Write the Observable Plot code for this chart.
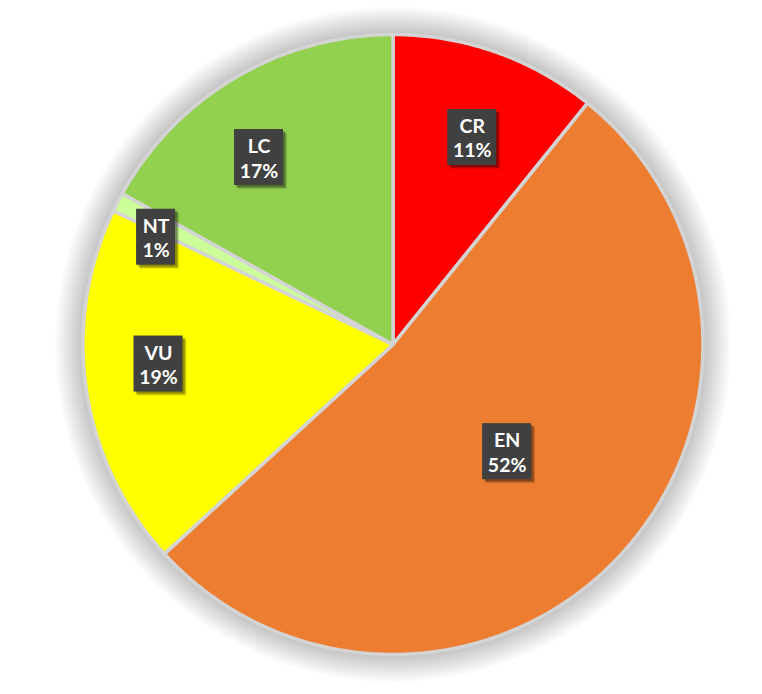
<!DOCTYPE html>
<html>
<head>
<meta charset="utf-8">
<script src="https://cdn.jsdelivr.net/npm/d3@7"></script>
<script src="https://cdn.jsdelivr.net/npm/@observablehq/plot@0.6"></script>
</head>
<body style="margin:0">
<div id="dbg" style="position:fixed;left:0;top:0;font:14px sans-serif;color:black;z-index:9"></div>
<script>
// ---- data ----
const categories = ["CR", "EN", "VU", "NT", "LC"];
const values = [10.8, 52.4, 18.9, 1.0, 16.9];
// ---- styling / layout ----
const sliceColors = ["#ff0000", "#ed7d31", "#ffff00", "#ccff99", "#92d050"];
const labelRadius = [0.715, 0.505, 0.759, 0.839, 0.742]; // fraction of pie radius
const labelTurn = [1.5, 0, 3.7, -3.0, -5.2];               // degrees nudge from slice middle

try {
  const cx = 392.5, cy = 344, R = 310;
  const total = d3.sum(values);
  const rad = Math.PI / 180;

  const slicePts = [];
  const labelData = [];
  let acc = 0;
  categories.forEach((c, i) => {
    const a0 = acc / total * 360;
    acc += values[i];
    const a1 = acc / total * 360;
    slicePts.push({cat: c, x: 0, y: 0});
    const n = Math.max(2, Math.ceil((a1 - a0) / 0.5));
    for (let k = 0; k <= n; k++) {
      const a = (a0 + (a1 - a0) * k / n) * rad;
      slicePts.push({cat: c, x: Math.sin(a), y: Math.cos(a)});
    }
    slicePts.push({cat: c, x: 0, y: 0});
    const am = ((a0 + a1) / 2 + labelTurn[i]) * rad;
    const pct = Math.round(values[i] / total * 100) + "%";
    const lx = labelRadius[i] * Math.sin(am), ly = labelRadius[i] * Math.cos(am);
    const bw = (10 * Math.max(c.length, pct.length) + 19) / R / 2; // half box width, in radius units
    const bh = 28 / R;                                                // half box height
    labelData.push({cat: c, x: lx, y: ly, text: c + "\n" + pct,
      x1: lx - bw, x2: lx + bw, y1: ly - bh, y2: ly + bh});
  });

  // soft halo behind the pie: stacked translucent discs
  const haloPts = [];
  d3.range(1, 21).forEach(k => {
    const rr = 1 + k * 0.0045;
    d3.range(0, 361, 2).forEach(a => haloPts.push({ring: k, x: rr * Math.sin(a * rad), y: rr * Math.cos(a * rad)}));
  });

  const svg = Plot.plot({
    width: 762, height: 694,
    marginTop: 0, marginRight: 0, marginBottom: 0, marginLeft: 0,
    x: {domain: [-1, 1], range: [cx - R, cx + R], axis: null},
    y: {domain: [-1, 1], range: [cy + R, cy - R], axis: null},
    color: {domain: categories, range: sliceColors},
    marks: [
      Plot.line(haloPts, {x: "x", y: "y", z: "ring", fill: "black", fillOpacity: 0.01, stroke: null}),
      Plot.line(slicePts, {x: "x", y: "y", z: "cat", fill: "cat", stroke: "#d4d4d4", strokeWidth: 3.5}),
      Plot.rect(labelData, {x1: "x1", x2: "x2", y1: "y1", y2: "y2", fill: "black", fillOpacity: 0.12, dx: 4, dy: 4}),
      Plot.rect(labelData, {x1: "x1", x2: "x2", y1: "y1", y2: "y2", fill: "black", fillOpacity: 0.2, dx: 3, dy: 3}),
      Plot.rect(labelData, {x1: "x1", x2: "x2", y1: "y1", y2: "y2", fill: "black", fillOpacity: 0.2, dx: 2, dy: 2}),
      Plot.rect(labelData, {x1: "x1", x2: "x2", y1: "y1", y2: "y2", fill: "#404040"}),
      Plot.text(labelData, {
        x: "x", y: "y", text: "text",
        fill: "white",
        fontFamily: "Lato",
        fontWeight: "bold",
        fontSize: 19.5,
        lineHeight: 1.25
      })
    ]
  });
  document.body.appendChild(svg);
} catch (e) {
  document.getElementById("dbg").textContent = "ERR " + e.message;
}
</script>
</body>
</html>
